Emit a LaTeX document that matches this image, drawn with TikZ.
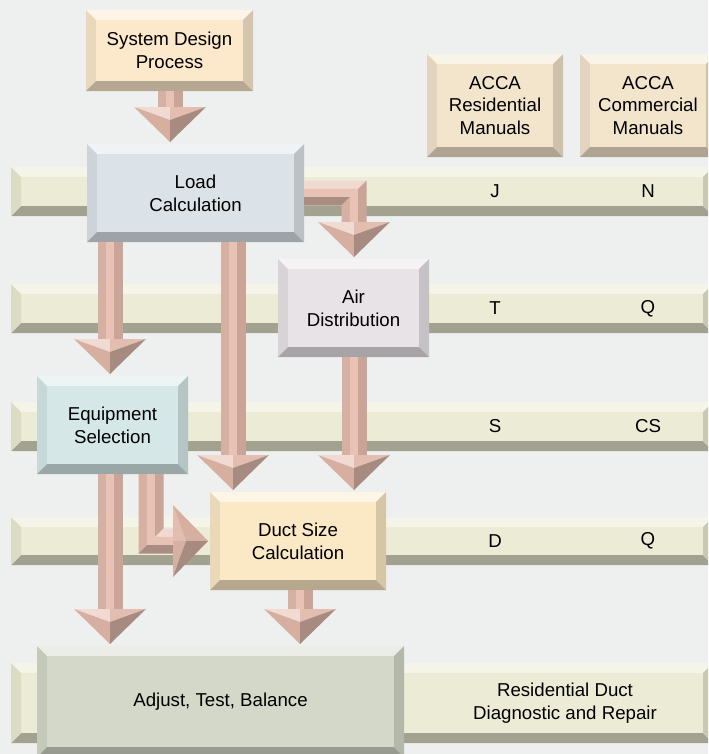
\documentclass[tikz,border=0pt]{standalone}
\usepackage{fontspec}
\setmainfont{Liberation Sans}
\usetikzlibrary{calc}

\definecolor{bgc}{HTML}{EEF0EF}
\definecolor{bandtop}{HTML}{F5F4E8}
\definecolor{bandmid}{HTML}{ECEBD5}
\definecolor{bandbot}{HTML}{A3A291}
\definecolor{bandl}{HTML}{DCDBC4}
\definecolor{bandr}{HTML}{C9C8B3}
\definecolor{sdpc}{HTML}{FCE8CB}
\definecolor{loadc}{HTML}{DCE3E8}
\definecolor{accac}{HTML}{F3E4CC}
\definecolor{airc}{HTML}{E8E3E7}
\definecolor{equipc}{HTML}{D5E8E7}
\definecolor{ductc}{HTML}{FBE9C6}
\definecolor{atbc}{HTML}{D3D8C8}
\definecolor{arrL}{HTML}{D6B0A3}
\definecolor{arrM}{HTML}{E8C3B5}
\definecolor{arrR}{HTML}{C9A497}
\definecolor{arrT}{HTML}{EFD9D0}
\definecolor{arrB}{HTML}{A98D83}
\definecolor{headTL}{HTML}{F0DAD1}
\definecolor{headTR}{HTML}{E3BDAF}
\definecolor{headBL}{HTML}{D6AFA1}
\definecolor{headBR}{HTML}{A78B81}

\tikzset{every picture/.style={line width=0.75pt}}
\tikzset{
	boxtext/.style={inner sep=0pt, outer sep=0pt, align=center, font=\fontsize{14}{17}\selectfont},
	bandtext/.style={inner sep=0pt, align=center, font=\fontsize{14}{17}\selectfont}
}

% bevelled box: name, x1, y1, x2, y2, colour, text
\newcommand{\bevbox}[7]{%
	\fill[#6!45!white] (#2,#3) -- (#4,#3) -- (#4-10,#3+10) -- (#2+10,#3+10) -- cycle;
	\fill[#6!93!black] (#2,#3) -- (#2+10,#3+10) -- (#2+10,#5-10) -- (#2,#5) -- cycle;
	\fill[#6!85!black] (#4,#3) -- (#4-10,#3+10) -- (#4-10,#5-10) -- (#4,#5) -- cycle;
	\fill[#6!72!black] (#2,#5) -- (#2+10,#5-10) -- (#4-10,#5-10) -- (#4,#5) -- cycle;
	\fill[#6] (#2+10,#3+10) rectangle (#4-10,#5-10);
	\node[boxtext, minimum width={(#4-#2)*0.75pt}, minimum height={(#5-#3)*0.75pt}] (#1) at ({(#2+#4)/2},{(#3+#5)/2}) {#7};
}

% bevelled band: top, bottom
\newcommand{\bandrow}[2]{%
	\fill[bandtop] (11,#1) -- (713,#1) -- (703,#1+10) -- (21,#1+10) -- cycle;
	\fill[bandmid] (21,#1+10) rectangle (703,#2-10);
	\fill[bandbot] (11,#2) -- (21,#2-10) -- (703,#2-10) -- (713,#2) -- cycle;
	\fill[bandl] (11,#1) -- (21,#1+10) -- (21,#2-10) -- (11,#2) -- cycle;
	\fill[bandr] (713,#1) -- (703,#1+10) -- (703,#2-10) -- (713,#2) -- cycle;
}

% arrow heads, placed at the box edge they point to
\newcommand{\headdown}[1]{%
	\begin{scope}[shift={#1}]
		\fill[headTL] (-36,-37) -- (0,-37) -- (0,-24) -- cycle;
		\fill[headTR] (36,-37) -- (0,-37) -- (0,-24) -- cycle;
		\fill[headBL] (-36,-37) -- (0,-24) -- (0,-2) -- cycle;
		\fill[headBR] (36,-37) -- (0,-24) -- (0,-2) -- cycle;
	\end{scope}
}
\newcommand{\headright}[1]{%
	\begin{scope}[shift={#1}]
		\fill[headTR] (-37,-36) -- (-37,0) -- (-24,0) -- cycle;
		\fill[headBL] (-37,-36) -- (-24,0) -- (-2,0) -- cycle;
		\fill[arrL] (-37,36) -- (-37,0) -- (-24,0) -- cycle;
		\fill[headBR] (-37,36) -- (-24,0) -- (-2,0) -- cycle;
	\end{scope}
}

% straight block arrow: shaft start, box top
\newcommand{\downarr}[2]{%
	\coordinate (as) at #1; \coordinate (at) at #2;
	\fill[arrL] ($(as)+(-12.5,0)$) rectangle ($(at)+(-4.2,-37)$);
	\fill[arrM] ($(as)+(-4.2,0)$) rectangle ($(at)+(4.2,-37)$);
	\fill[arrR] ($(as)+(4.2,0)$) rectangle ($(at)+(12.5,-37)$);
	\headdown{(at)}
}

\begin{document}
\begin{tikzpicture}[x=0.75pt,y=0.75pt,yscale=-1,xscale=1]
	\useasboundingbox (0,0) rectangle (708,754);
	\fill[bgc] (0,0) rectangle (708,754);
	\clip (0,0) rectangle (708,754);

	%Columns of the arrows
	\coordinate (c0) at (170,0);
	\coordinate (c1) at (110,0);
	\coordinate (c2) at (233,0);
	\coordinate (c3) at (354,0);
	\coordinate (c4) at (151,0);
	\coordinate (c5) at (300,0);

	%Shape: Bands
	\bandrow{167}{216}
	\bandrow{284}{333}
	\bandrow{402}{451}
	\bandrow{517}{565}
	\bandrow{663}{743}

	% Text Node
	\node[bandtext] (bj) at (495,191) {J};
	\node[bandtext] (bn) at (648,191) {N};
	\node[bandtext] (bt) at (495,308.5) {T};
	\node[bandtext] (bqa) at (648,308.5) {Q};
	\node[bandtext] (bs) at (495,426.5) {S};
	\node[bandtext] (bcs) at (648,426.5) {CS};
	\node[bandtext] (bd) at (495,541) {D};
	\node[bandtext] (bqb) at (648,541) {Q};
	\node[bandtext] (brd) at (565,703) {Residential Duct\\Diagnostic and Repair};

	%Shape: Boxes
	\bevbox{sdp}{86}{10}{253}{91}{sdpc}{System Design\\Process}
	\bevbox{accar}{427}{54}{563}{157}{accac}{ACCA\\Residential\\Manuals}
	\bevbox{accam}{580}{54}{716}{157}{accac}{ACCA\\Commercial\\Manuals}
	\bevbox{lc}{87}{144}{304}{242}{loadc}{Load\\Calculation}
	\bevbox{ad}{278}{259}{429}{357}{airc}{Air\\Distribution}
	\bevbox{es}{37}{376}{188}{474}{equipc}{Equipment\\Selection}
	\bevbox{dsc}{210}{492}{386}{590}{ductc}{Duct Size\\Calculation}
	\bevbox{atb}{37}{646}{404}{757}{atbc}{Adjust, Test, Balance}

	%Block arrows
	\downarr{(c0 |- sdp.south)}{(c0 |- lc.north)}
	\downarr{(c1 |- lc.south)}{(c1 |- es.north)}
	\downarr{(c2 |- lc.south)}{(c2 |- dsc.north)}
	\downarr{(c3 |- ad.south)}{(c3 |- dsc.north)}
	\downarr{(c1 |- es.south)}{(c1 |- atb.north)}
	\downarr{(c5 |- dsc.south)}{(c5 |- atb.north)}

	%Elbow arrow: load to air
	\begin{scope}[shift={(c3 |- lc.east)}]
		\fill[arrT] ($(lc.east)+(0,-12.5)$) -- (12.5,-12.5) -- (4.2,-4.2) -- ($(lc.east)+(0,-4.2)$) -- cycle;
		\fill[arrM] ($(lc.east)+(0,-4.2)$) -- (4.2,-4.2) -- (-4.2,4.2) -- ($(lc.east)+(0,4.2)$) -- cycle;
		\fill[arrB] ($(lc.east)+(0,4.2)$) -- (-4.2,4.2) -- (-12.5,12.5) -- ($(lc.east)+(0,12.5)$) -- cycle;
		\fill[arrL] (-12.5,12.5) -- (-4.2,4.2) -- ($(c3 |- ad.north)+(-4.2,-37)$) -- ($(c3 |- ad.north)+(-12.5,-37)$) -- cycle;
		\fill[arrM] (-4.2,4.2) -- (4.2,-4.2) -- ($(c3 |- ad.north)+(4.2,-37)$) -- ($(c3 |- ad.north)+(-4.2,-37)$) -- cycle;
		\fill[arrR] (4.2,-4.2) -- (12.5,-12.5) -- ($(c3 |- ad.north)+(12.5,-37)$) -- ($(c3 |- ad.north)+(4.2,-37)$) -- cycle;
	\end{scope}
	\headdown{(c3 |- ad.north)}

	%Elbow arrow: equipment to duct
	\begin{scope}[shift={(c4 |- dsc.west)}]
		\fill[arrL] ($(c4 |- es.south)+(-12.5,0)$) -- ($(c4 |- es.south)+(-4.2,0)$) -- (-4.2,4.2) -- (-12.5,12.5) -- cycle;
		\fill[arrM] ($(c4 |- es.south)+(-4.2,0)$) -- ($(c4 |- es.south)+(4.2,0)$) -- (4.2,-4.2) -- (-4.2,4.2) -- cycle;
		\fill[arrR] ($(c4 |- es.south)+(4.2,0)$) -- ($(c4 |- es.south)+(12.5,0)$) -- (12.5,-12.5) -- (4.2,-4.2) -- cycle;
		\fill[arrT] (12.5,-12.5) -- ($(dsc.west)+(-37,-12.5)$) -- ($(dsc.west)+(-37,-4.2)$) -- (4.2,-4.2) -- cycle;
		\fill[arrM] (4.2,-4.2) -- ($(dsc.west)+(-37,-4.2)$) -- ($(dsc.west)+(-37,4.2)$) -- (-4.2,4.2) -- cycle;
		\fill[arrB] (-4.2,4.2) -- ($(dsc.west)+(-37,4.2)$) -- ($(dsc.west)+(-37,12.5)$) -- (-12.5,12.5) -- cycle;
	\end{scope}
	\headright{(dsc.west)}
\end{tikzpicture}
\end{document}
